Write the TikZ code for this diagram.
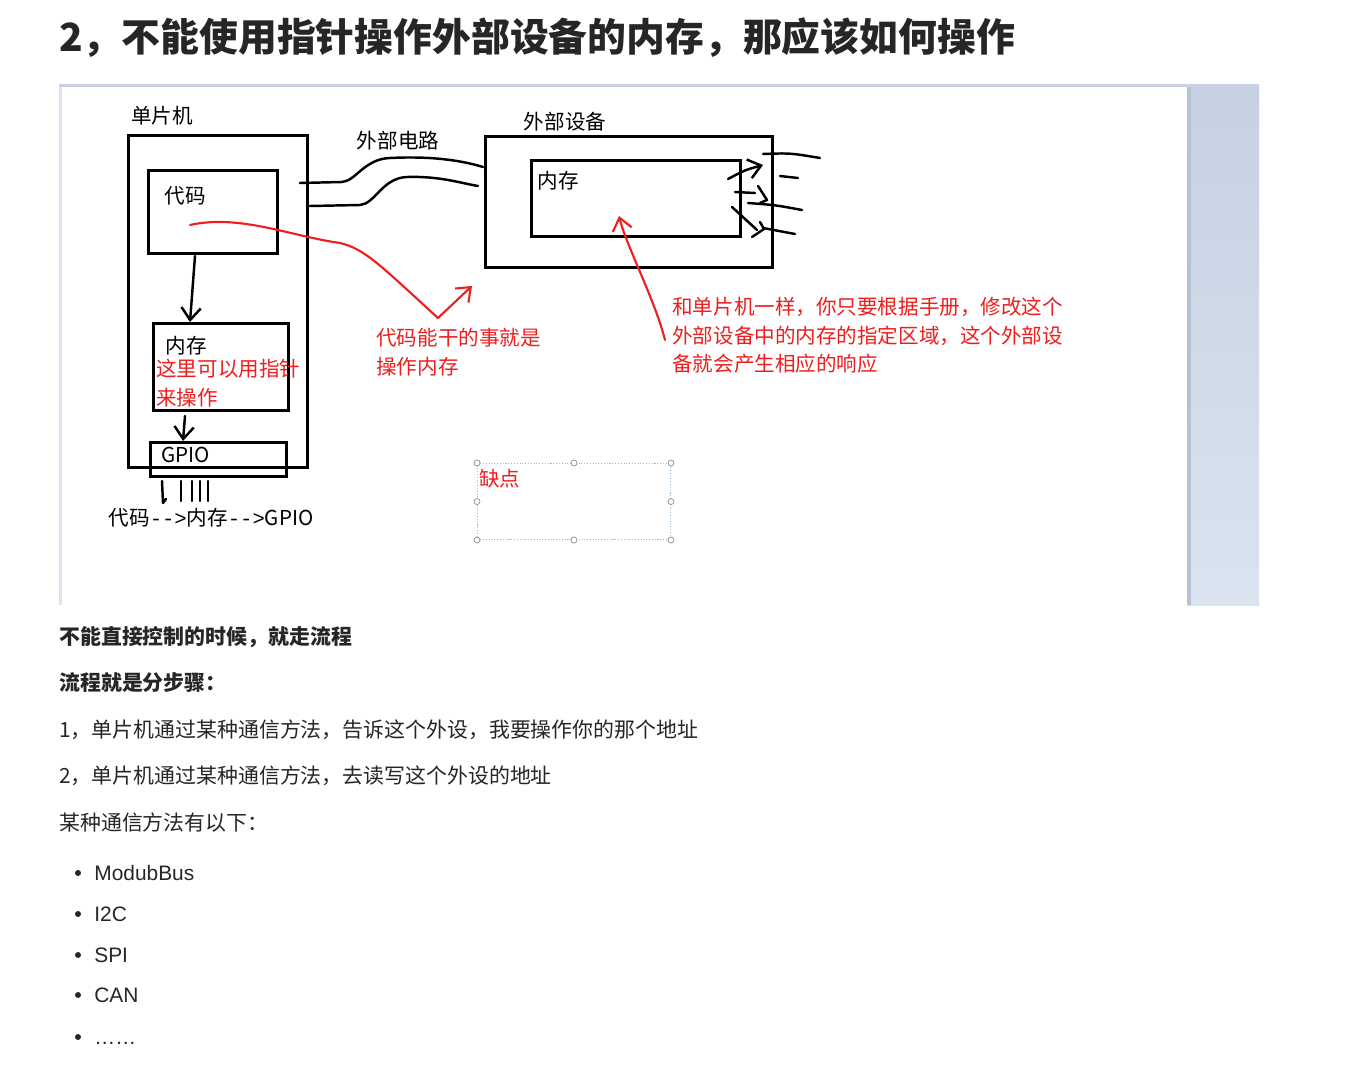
\documentclass[tikz,border=0pt]{standalone}
\usepackage{fontspec}
\setmainfont{Noto Sans CJK SC}
\newfontfamily\latinfont{Liberation Sans}
\newfontfamily\dashfont{Liberation Mono}
\usetikzlibrary{positioning,calc,arrows.meta}

\definecolor{penred}{RGB}{238,30,30}
\definecolor{inktext}{RGB}{38,38,38}
\definecolor{frametop}{RGB}{200,210,227}
\definecolor{frameleft}{RGB}{220,229,242}
\definecolor{paneltop}{RGB}{198,208,225}
\definecolor{panelbot}{RGB}{218,227,240}
\definecolor{paneledge}{RGB}{182,193,212}
\definecolor{selline}{RGB}{150,185,222}
\definecolor{handlegray}{RGB}{140,140,140}

\tikzset{
  >={Straight Barb[length=7pt,width=11pt]},
  box/.style={draw,line width=1.7pt,inner sep=0pt,anchor=north west},
  wire/.style={line width=1.4pt,line cap=round,line join=round},
  redpen/.style={draw=penred,line width=1.2pt,line cap=round,line join=round},
  blk/.style={inner sep=0pt,font=\fontsize{11.7}{14}\selectfont},
  rednote/.style={inner sep=0pt,anchor=north west,align=left,text=penred,font=\fontsize{11.7}{16.2}\selectfont},
  bodyline/.style={inner sep=0pt,anchor=west,text=inktext,font=\fontsize{11.9}{14}\selectfont},
  listitem/.style={inner sep=0pt,anchor=base west,text=inktext,font=\latinfont\fontsize{11.9}{14}\selectfont},
  handle/.style={circle,draw=handlegray,fill=white,line width=0.4pt,inner sep=0pt,minimum size=3.4pt}
}

\begin{document}
\begin{tikzpicture}[x=0.02cm,y=-0.02cm]
\useasboundingbox (0,0) rectangle (1361,1074);
\fill[white] (0,0) rectangle (1361,1074);

\node[inner sep=0pt,anchor=west,text=inktext,font=\bfseries\fontsize{22.1}{26}\selectfont] (title) at (59,38) {2，不能使用指针操作外部设备的内存，那应该如何操作};

\fill[frameleft] (59,84) rectangle (62,605);
\shade[top color=paneltop,bottom color=panelbot] (1187,87) rectangle (1259,605);
\fill[paneledge] (1187,87) rectangle (1191,605);
\fill[frametop] (59,84) rectangle (1259,87);

\node[box,minimum width=3.58cm,minimum height=6.64cm] (mcu) at (127,134) {};
\node[box,minimum width=2.58cm,minimum height=1.66cm] (code) at (147,169) {};
\node[box,minimum width=2.70cm,minimum height=1.74cm] (mem) at (152,322) {};
\node[box,minimum width=2.72cm,minimum height=0.68cm] (gpio) at (149,441) {};
\node[box,minimum width=5.74cm,minimum height=2.62cm] (dev) at (484,135) {};
\node[box,minimum width=4.18cm,minimum height=1.52cm] (devmem) at (530,159) {};

\node[blk] (mcutitle) at (162,116) {单片机};
\node[blk] (codelbl) at (185,196) {代码};
\node[blk] (memlbl) at (186,346) {内存};
\node[blk] (gpiolbl) at (186,455) {GPIO};
\node[blk] (flowlbl) at (211,518) {代码{\dashfont -{}->}内存{\dashfont -{}->}GPIO};
\node[blk] (wirelbl) at (398,141) {外部电路};
\node[blk] (devtitle) at (565,122) {外部设备};
\node[blk] (devmemlbl) at (558,181) {内存};

\node[rednote] (ptrnote) at (156,359) {这里可以用指针\\来操作};
\node[rednote] (codenote) at (376,328) {代码能干的事就是\\操作内存};
\node[rednote] (devnote) at (672,297) {和单片机一样，你只要根据手册，修改这个\\外部设备中的内存的指定区域，这个外部设\\备就会产生相应的响应};

\draw[wire,->] ($(code.south west)+(48,1)$) -- ($(mem.north west)+(38,0)$);
\draw[wire,->] ($(mem.south west)+(33,4)$) -- ($(gpio.north west)+(34,0)$);

\draw[wire] ($(gpio.south west)+(13,3)$) -- ++(1,22) -- ++(3,-4);
\foreach \px in {32,43,51,59}
  \draw[wire] ($(gpio.south west)+(\px,3)$) -- ++(0,20);

\coordinate (wireAa) at ($(mcu.north east)+(-9,49)$);
\coordinate (wireAb) at ($(dev.north west)+(-1,32)$);
\coordinate (wireBa) at ($(mcu.north east)+(1,72)$);
\coordinate (wireBb) at ($(dev.north west)+(-6,51)$);
\draw[wire] (wireAa) -- (342,182) .. controls (356,181) and (364,159) .. (390,158) .. controls (430,156) and (460,160) .. (wireAb);
\draw[wire] (wireBa) -- (360,205) .. controls (375,204) and (382,178) .. (407,177) .. controls (440,176) and (460,183) .. (wireBb);

\draw[wire] (763,154) .. controls (790,153) .. (820,158);
\draw[wire,->] (728,179) .. controls (745,170) .. (763,165);
\draw[wire] (780,176) -- (798,178);
\draw[wire] (735,192) -- (755,193);
\draw[wire] (758,186) -- (767,200) -- (760,203);
\draw[wire] (748,203) .. controls (775,205) .. (802,210);
\draw[wire] (732,207) -- (757,230);
\draw[wire] (760,222) -- (764,229) -- (752,237);
\draw[wire] (763,228) -- (795,234);

\coordinate (redA) at ($(code.south west)+(43,-30)$);
\coordinate (redAtip) at ($(dev.south west)+(-12,17)$);
\draw[redpen,->] (redA) .. controls (240,214) and (290,236) .. (340,243) .. controls (365,249) and (380,265) .. (438,318) -- (redAtip);
\coordinate (redB) at ($(devnote.north west)+(-7,43)$);
\coordinate (redBtip) at ($(devmem.south west)+(89,-22)$);
\draw[redpen,->] (redB) .. controls (655,300) and (626,245) .. (redBtip);

\node[draw=selline,densely dotted,line width=0.6pt,inner sep=0pt,anchor=north west,minimum width=3.86cm,minimum height=1.52cm] (defect) at (477,463) {};
\foreach \an in {north west,north,north east,east,south east,south,south west,west}
  \node[handle] at (defect.\an) {};
\node[inner sep=0pt,anchor=west,text=penred,font=\fontsize{11.7}{14}\selectfont] (defectlbl) at (479,479) {缺点};

\node[bodyline,font=\bfseries\fontsize{11.9}{14}\selectfont] (tip1) at (59,637) {不能直接控制的时候，就走流程};
\node[bodyline,font=\bfseries\fontsize{11.9}{14}\selectfont] (tip2) at (59,683) {流程就是分步骤：};
\node[bodyline] (step1) at (59,730) {1，单片机通过某种通信方法，告诉这个外设，我要操作你的那个地址};
\node[bodyline] (step2) at (59,776) {2，单片机通过某种通信方法，去读写这个外设的地址};
\node[bodyline] (methods) at (59,823) {某种通信方法有以下：};

\foreach \yy/\txt [count=\i] in {873/ModubBus,914/I2C,955/SPI,995/CAN,1037/……} {
  \fill[inktext] (78,\yy) circle (1.7pt);
  \node[listitem] (item\i) at (94,\yy+7.5) {\txt};
}
\end{tikzpicture}
\end{document}
